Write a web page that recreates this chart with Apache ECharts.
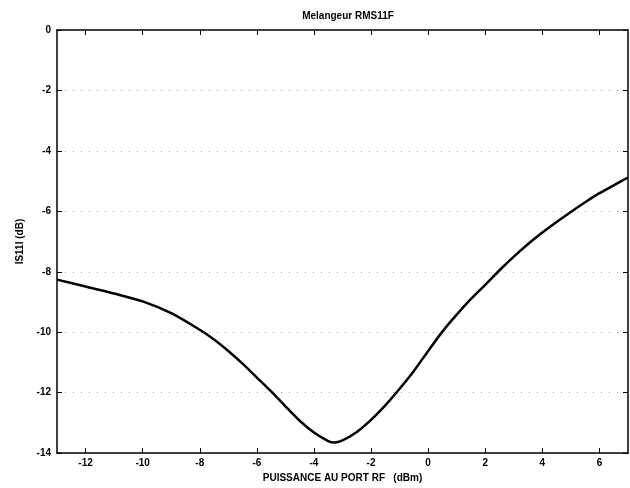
<!DOCTYPE html>
<html>
<head>
<meta charset="utf-8">
<script src="https://cdn.jsdelivr.net/npm/echarts@6/dist/echarts.min.js"></script>
<style>
html,body{margin:0;padding:0;background:#fff}
#chart{width:630px;height:488px}
</style>
</head>
<body>
<div id="chart"></div>
<script>
var puissance = [-13,-12,-11,-10,-9,-8,-7.5,-7,-6.5,-6,-5.5,-5,-4.5,-4,-3.5,-3.3,-3,-2.5,-2,-1.5,-1,-0.5,0,0.5,1,1.5,2,2.5,3,3.5,4,4.5,5,5.5,6,6.5,7]
var s11 = [-8.26,-8.49,-8.72,-8.98,-9.37,-9.92,-10.24,-10.62,-11.04,-11.5,-11.96,-12.45,-12.93,-13.32,-13.6,-13.65,-13.58,-13.3,-12.9,-12.42,-11.87,-11.28,-10.62,-9.98,-9.42,-8.9,-8.43,-7.95,-7.5,-7.08,-6.7,-6.35,-6.02,-5.7,-5.4,-5.14,-4.88]
var xTicks = [-12,-10,-8,-6,-4,-2,0,2,4,6]

var ec_chart = echarts.init(document.getElementById("chart"))

var fontTxt = {fontFamily:'Liberation Sans, Arial, sans-serif', fontWeight:'bold', color:'#000', fontSize:10}
var lineAxe = {show:true, onZero:false, lineStyle:{color:'#000', width:1.5}}

var ec_chart_Option = {
	animation:false,
	backgroundColor:'#fff',
	title:{
		text:'Melangeur RMS11F',
		left:343,
		top:6,
		textAlign:'center',
		textStyle:Object.assign({}, fontTxt, {fontSize:10})
	},
	grid:{
		left:57,
		right:2,
		top:30,
		bottom:32
	},
	xAxis:[{
		type:'value',
		min:-13,
		max:7,
		name:'PUISSANCE AU PORT RF   (dBm)',
		nameLocation:'middle',
		nameGap:18,
		nameTextStyle:fontTxt,
		axisLine:lineAxe,
		axisTick:{inside:true, length:5, customValues:xTicks, lineStyle:{color:'#000'}},
		axisLabel:Object.assign({customValues:xTicks, margin:5}, fontTxt),
		splitLine:{show:false}
	},{
		type:'value',
		position:'top',
		min:-13,
		max:7,
		axisLine:lineAxe,
		axisTick:{inside:true, length:5, customValues:xTicks, lineStyle:{color:'#000'}},
		axisLabel:{show:false},
		splitLine:{show:false}
	}],
	yAxis:[{
		type:'value',
		min:-14,
		max:0,
		interval:2,
		name:'IS11I (dB)',
		nameLocation:'middle',
		nameGap:32,
		nameTextStyle:fontTxt,
		axisLine:lineAxe,
		axisTick:{inside:true, length:5, lineStyle:{color:'#000'}},
		axisLabel:Object.assign({margin:6}, fontTxt),
		splitLine:{show:true, lineStyle:{color:'#999', width:1, type:[1,7]}}
	},{
		type:'value',
		position:'right',
		min:-14,
		max:0,
		interval:2,
		axisLine:lineAxe,
		axisTick:{inside:true, length:5, lineStyle:{color:'#000'}},
		axisLabel:{show:false},
		splitLine:{show:false}
	}],
	series:[{
		type:'line',
		xAxisIndex:0,
		yAxisIndex:0,
		smooth:0.3,
		showSymbol:false,
		lineStyle:{color:'#000', width:2.5},
		data:puissance.map(function(v,i){return [v, s11[i]]})
	}]
}

ec_chart.setOption(ec_chart_Option)
</script>
</body>
</html>
